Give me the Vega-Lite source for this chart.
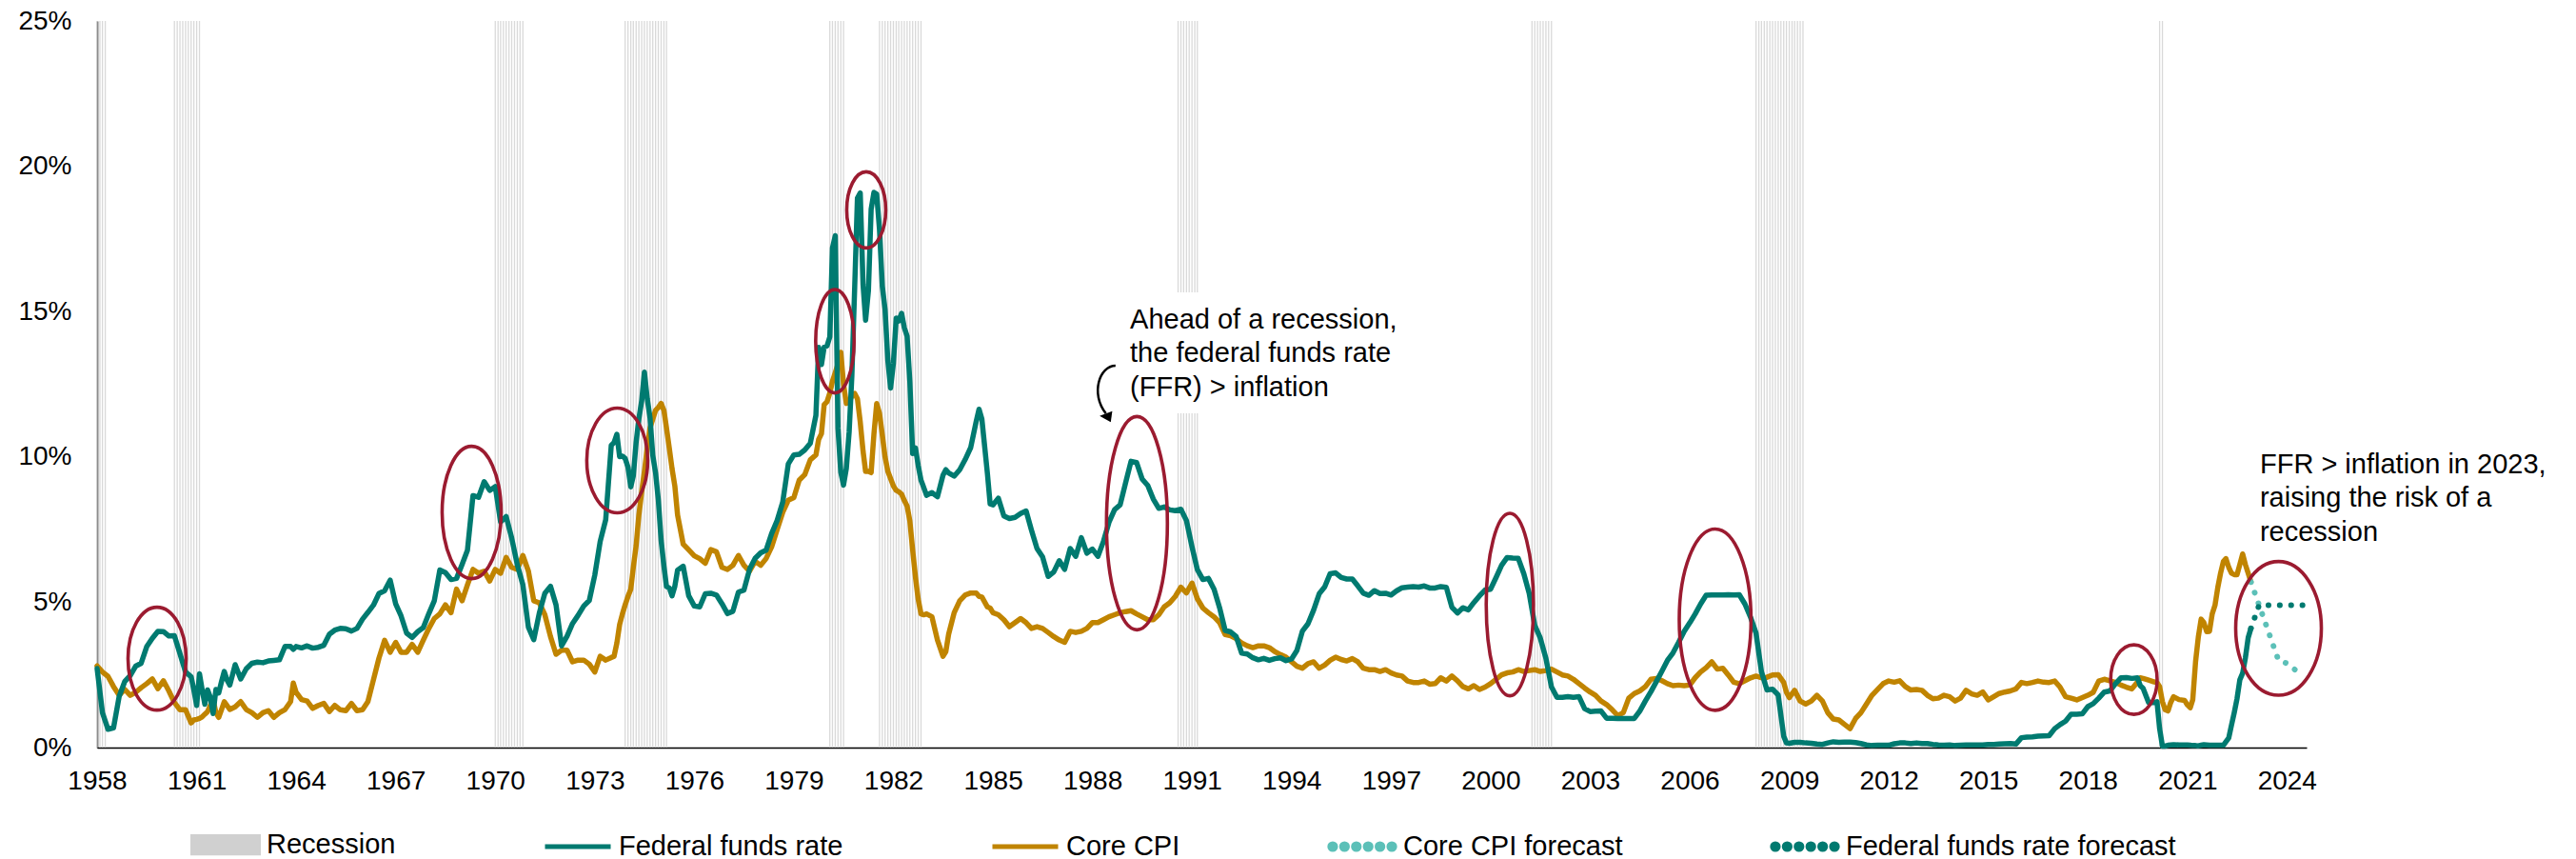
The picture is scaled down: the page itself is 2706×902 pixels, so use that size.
{
  "$schema": "https://vega.github.io/schema/vega-lite/v6.json",
  "width": 2321,
  "height": 763,
  "autosize": {"type": "none"},
  "padding": {"left": 102, "top": 22, "right": 283, "bottom": 117},
  "background": "white",
  "config": {"view": {"stroke": null}, "font": "Liberation Sans"},
  "datasets": {
    "rec": [
      {"m":"1958-01"},{"m":"1958-02"},{"m":"1958-03"},{"m":"1958-04"},
      {"m":"1960-05"},{"m":"1960-06"},{"m":"1960-07"},{"m":"1960-08"},{"m":"1960-09"},{"m":"1960-10"},{"m":"1960-11"},{"m":"1960-12"},{"m":"1961-01"},{"m":"1961-02"},
      {"m":"1970-01"},{"m":"1970-02"},{"m":"1970-03"},{"m":"1970-04"},{"m":"1970-05"},{"m":"1970-06"},{"m":"1970-07"},{"m":"1970-08"},{"m":"1970-09"},{"m":"1970-10"},{"m":"1970-11"},
      {"m":"1973-12"},{"m":"1974-01"},{"m":"1974-02"},{"m":"1974-03"},{"m":"1974-04"},{"m":"1974-05"},{"m":"1974-06"},{"m":"1974-07"},{"m":"1974-08"},{"m":"1974-09"},{"m":"1974-10"},{"m":"1974-11"},{"m":"1974-12"},{"m":"1975-01"},{"m":"1975-02"},{"m":"1975-03"},
      {"m":"1980-02"},{"m":"1980-03"},{"m":"1980-04"},{"m":"1980-05"},{"m":"1980-06"},{"m":"1980-07"},
      {"m":"1981-08"},{"m":"1981-09"},{"m":"1981-10"},{"m":"1981-11"},{"m":"1981-12"},{"m":"1982-01"},{"m":"1982-02"},{"m":"1982-03"},{"m":"1982-04"},{"m":"1982-05"},{"m":"1982-06"},{"m":"1982-07"},{"m":"1982-08"},{"m":"1982-09"},{"m":"1982-10"},{"m":"1982-11"},
      {"m":"1990-08"},{"m":"1990-09"},{"m":"1990-10"},{"m":"1990-11"},{"m":"1990-12"},{"m":"1991-01"},{"m":"1991-02"},{"m":"1991-03"},
      {"m":"2001-04"},{"m":"2001-05"},{"m":"2001-06"},{"m":"2001-07"},{"m":"2001-08"},{"m":"2001-09"},{"m":"2001-10"},{"m":"2001-11"},
      {"m":"2008-01"},{"m":"2008-02"},{"m":"2008-03"},{"m":"2008-04"},{"m":"2008-05"},{"m":"2008-06"},{"m":"2008-07"},{"m":"2008-08"},{"m":"2008-09"},{"m":"2008-10"},{"m":"2008-11"},{"m":"2008-12"},{"m":"2009-01"},{"m":"2009-02"},{"m":"2009-03"},{"m":"2009-04"},{"m":"2009-05"},{"m":"2009-06"},
      {"m":"2020-03"},{"m":"2020-04"}
    ],
    "box": [{"d1":"1989-01","d2":"1998-01","v1":11.5,"v2":15.66}],
    "main": [
      {"d":"1958-01","f":2.72,"c":2.81},{"d":"1958-03","f":1.20,"c":2.6},{"d":"1958-05","f":0.63,"c":2.45},{"d":"1958-07","f":0.68,"c":2.1},{"d":"1958-09","f":1.76,"c":1.8},{"d":"1958-11","f":2.27,"c":2.0},
      {"d":"1959-01","f":2.48,"c":1.8},{"d":"1959-03","f":2.80,"c":1.9},{"d":"1959-05","f":2.90,"c":2.06},{"d":"1959-07","f":3.47,"c":2.2},{"d":"1959-09","f":3.76,"c":2.36},{"d":"1959-11","f":4.00,"c":2.03},
      {"d":"1960-01","f":3.99,"c":2.3},{"d":"1960-03","f":3.84,"c":1.95},{"d":"1960-05","f":3.85,"c":1.55},{"d":"1960-07","f":3.23,"c":1.3},{"d":"1960-09","f":2.60,"c":1.3},{"d":"1960-11","f":2.44,"c":0.85},{"d":"1960-12","f":1.98,"c":0.95},
      {"d":"1961-01","f":1.45,"c":0.97},{"d":"1961-02","f":2.54,"c":1.0},{"d":"1961-03","f":2.02,"c":1.05},{"d":"1961-04","f":1.49,"c":1.15},{"d":"1961-05","f":1.98,"c":1.24},{"d":"1961-06","f":1.73,"c":1.45},{"d":"1961-07","f":1.17,"c":1.65},{"d":"1961-08","f":2.00,"c":1.2},{"d":"1961-09","f":1.88,"c":1.04},{"d":"1961-10","f":2.26,"c":1.3},{"d":"1961-11","f":2.62,"c":1.58},{"d":"1961-12","f":2.33,"c":1.45},
      {"d":"1962-01","f":2.15,"c":1.31},{"d":"1962-03","f":2.85,"c":1.4},{"d":"1962-05","f":2.36,"c":1.58},{"d":"1962-07","f":2.71,"c":1.31},{"d":"1962-09","f":2.90,"c":1.2},{"d":"1962-11","f":2.94,"c":1.04},
      {"d":"1963-01","f":2.92,"c":1.2},{"d":"1963-03","f":2.98,"c":1.27},{"d":"1963-05","f":3.00,"c":1.04},{"d":"1963-07","f":3.02,"c":1.2},{"d":"1963-09","f":3.48,"c":1.31},{"d":"1963-11","f":3.48,"c":1.58},{"d":"1963-12","f":3.38,"c":2.22},
      {"d":"1964-01","f":3.48,"c":1.9},{"d":"1964-03","f":3.43,"c":1.65},{"d":"1964-05","f":3.50,"c":1.6},{"d":"1964-07","f":3.42,"c":1.35},{"d":"1964-09","f":3.45,"c":1.45},{"d":"1964-11","f":3.52,"c":1.52},
      {"d":"1965-01","f":3.90,"c":1.24},{"d":"1965-03","f":4.04,"c":1.45},{"d":"1965-05","f":4.10,"c":1.3},{"d":"1965-07","f":4.09,"c":1.27},{"d":"1965-09","f":4.01,"c":1.52},{"d":"1965-11","f":4.10,"c":1.27},
      {"d":"1966-01","f":4.42,"c":1.3},{"d":"1966-03","f":4.65,"c":1.58},{"d":"1966-05","f":4.90,"c":2.33},{"d":"1966-07","f":5.30,"c":3.08},{"d":"1966-09","f":5.40,"c":3.69},{"d":"1966-11","f":5.76,"c":3.28},
      {"d":"1967-01","f":4.94,"c":3.62},{"d":"1967-03","f":4.53,"c":3.28},{"d":"1967-05","f":3.94,"c":3.28},{"d":"1967-07","f":3.79,"c":3.55},{"d":"1967-09","f":3.99,"c":3.28},{"d":"1967-11","f":4.13,"c":3.7},
      {"d":"1968-01","f":4.61,"c":4.1},{"d":"1968-03","f":5.05,"c":4.44},{"d":"1968-05","f":6.11,"c":4.6},{"d":"1968-07","f":6.02,"c":4.91},{"d":"1968-09","f":5.78,"c":4.64},{"d":"1968-11","f":5.82,"c":5.45},
      {"d":"1969-01","f":6.30,"c":5.05},{"d":"1969-03","f":6.79,"c":5.6},{"d":"1969-05","f":8.67,"c":6.13},{"d":"1969-07","f":8.61,"c":6.0},{"d":"1969-09","f":9.15,"c":6.07},{"d":"1969-11","f":8.85,"c":5.73},
      {"d":"1970-01","f":8.98,"c":6.13},{"d":"1970-03","f":7.76,"c":6.0},{"d":"1970-05","f":7.95,"c":6.54},{"d":"1970-07","f":7.21,"c":6.2},{"d":"1970-09","f":6.29,"c":6.13},{"d":"1970-11","f":5.60,"c":6.61},
      {"d":"1971-01","f":4.14,"c":6.07},{"d":"1971-03","f":3.71,"c":5.05},{"d":"1971-05","f":4.63,"c":4.98},{"d":"1971-07","f":5.31,"c":4.57},{"d":"1971-09","f":5.55,"c":3.82},{"d":"1971-11","f":4.91,"c":3.21},
      {"d":"1972-01","f":3.50,"c":3.35},{"d":"1972-03","f":3.83,"c":3.35},{"d":"1972-05","f":4.27,"c":2.95},{"d":"1972-07","f":4.55,"c":3.01},{"d":"1972-09","f":4.87,"c":3.01},{"d":"1972-11","f":5.06,"c":2.87},
      {"d":"1973-01","f":5.94,"c":2.6},{"d":"1973-03","f":7.09,"c":3.14},{"d":"1973-05","f":7.84,"c":3.01},{"d":"1973-07","f":10.40,"c":3.1},{"d":"1973-08","f":10.50,"c":3.14},{"d":"1973-09","f":10.78,"c":3.6},{"d":"1973-10","f":10.01,"c":4.23},{"d":"1973-11","f":10.03,"c":4.6},{"d":"1973-12","f":9.95,"c":4.91},
      {"d":"1974-01","f":9.65,"c":5.2},{"d":"1974-02","f":8.97,"c":5.45},{"d":"1974-03","f":9.35,"c":6.2},{"d":"1974-04","f":10.51,"c":6.95},{"d":"1974-05","f":11.31,"c":8.0},{"d":"1974-06","f":11.93,"c":8.8},{"d":"1974-07","f":12.92,"c":9.5},{"d":"1974-08","f":12.01,"c":10.3},{"d":"1974-09","f":11.34,"c":11.0},{"d":"1974-10","f":10.06,"c":11.3},{"d":"1974-11","f":9.45,"c":11.6},{"d":"1974-12","f":8.53,"c":11.7},
      {"d":"1975-01","f":7.13,"c":11.84},{"d":"1975-02","f":6.24,"c":11.6},{"d":"1975-03","f":5.54,"c":11.0},{"d":"1975-04","f":5.49,"c":10.3},{"d":"1975-05","f":5.22,"c":9.6},{"d":"1975-06","f":5.55,"c":9.0},{"d":"1975-07","f":6.10,"c":8.0},{"d":"1975-09","f":6.24,"c":7.0},{"d":"1975-11","f":5.22,"c":6.8},
      {"d":"1976-01","f":4.87,"c":6.6},{"d":"1976-03","f":4.84,"c":6.5},{"d":"1976-05","f":5.29,"c":6.34},{"d":"1976-07","f":5.31,"c":6.81},{"d":"1976-09","f":5.25,"c":6.74},{"d":"1976-11","f":4.95,"c":6.2},
      {"d":"1977-01","f":4.61,"c":6.13},{"d":"1977-03","f":4.69,"c":6.27},{"d":"1977-05","f":5.35,"c":6.61},{"d":"1977-07","f":5.42,"c":6.27},{"d":"1977-09","f":6.14,"c":6.07},{"d":"1977-11","f":6.51,"c":6.41},
      {"d":"1978-01","f":6.70,"c":6.27},{"d":"1978-03","f":6.79,"c":6.5},{"d":"1978-05","f":7.36,"c":6.9},{"d":"1978-07","f":7.81,"c":7.5},{"d":"1978-09","f":8.45,"c":8.1},{"d":"1978-11","f":9.76,"c":8.51},
      {"d":"1979-01","f":10.07,"c":8.6},{"d":"1979-03","f":10.09,"c":9.2},{"d":"1979-05","f":10.24,"c":9.39},{"d":"1979-07","f":10.47,"c":9.9},{"d":"1979-09","f":11.43,"c":10.07},{"d":"1979-10","f":13.77,"c":10.6},{"d":"1979-11","f":13.18,"c":10.8},{"d":"1979-12","f":13.78,"c":11.8},
      {"d":"1980-01","f":13.82,"c":11.9},{"d":"1980-02","f":14.13,"c":12.2},{"d":"1980-03","f":17.19,"c":12.6},{"d":"1980-04","f":17.61,"c":12.9},{"d":"1980-05","f":10.98,"c":13.2},{"d":"1980-06","f":9.47,"c":13.6},{"d":"1980-07","f":9.03,"c":12.5},{"d":"1980-08","f":9.61,"c":11.84},{"d":"1980-09","f":10.87,"c":11.9},{"d":"1980-10","f":12.81,"c":12.1},{"d":"1980-11","f":15.85,"c":12.18},{"d":"1980-12","f":18.90,"c":12.0},
      {"d":"1981-01","f":19.08,"c":11.2},{"d":"1981-02","f":15.93,"c":10.2},{"d":"1981-03","f":14.70,"c":9.5},{"d":"1981-04","f":15.72,"c":9.5},{"d":"1981-05","f":18.52,"c":9.46},{"d":"1981-06","f":19.10,"c":10.8},{"d":"1981-07","f":19.04,"c":11.84},{"d":"1981-08","f":17.82,"c":11.5},{"d":"1981-09","f":15.87,"c":10.75},{"d":"1981-10","f":15.08,"c":10.0},{"d":"1981-11","f":13.31,"c":9.5},{"d":"1981-12","f":12.37,"c":9.26},
      {"d":"1982-01","f":13.22,"c":9.0},{"d":"1982-02","f":14.78,"c":8.85},{"d":"1982-03","f":14.68,"c":8.8},{"d":"1982-04","f":14.94,"c":8.72},{"d":"1982-05","f":14.45,"c":8.5},{"d":"1982-06","f":14.15,"c":8.31},{"d":"1982-07","f":12.59,"c":7.8},{"d":"1982-08","f":10.12,"c":6.8},{"d":"1982-09","f":10.31,"c":5.86},{"d":"1982-10","f":9.71,"c":5.1},{"d":"1982-11","f":9.20,"c":4.6},{"d":"1982-12","f":8.95,"c":4.57},
      {"d":"1983-01","f":8.68,"c":4.6},{"d":"1983-03","f":8.77,"c":4.5},{"d":"1983-05","f":8.63,"c":3.7},{"d":"1983-07","f":9.37,"c":3.14},{"d":"1983-08","f":9.56,"c":3.3},{"d":"1983-09","f":9.45,"c":3.9},{"d":"1983-11","f":9.34,"c":4.64},
      {"d":"1984-01","f":9.56,"c":5.05},{"d":"1984-03","f":9.91,"c":5.25},{"d":"1984-05","f":10.32,"c":5.32},{"d":"1984-07","f":11.23,"c":5.32},{"d":"1984-08","f":11.64,"c":5.2},{"d":"1984-09","f":11.30,"c":5.18},{"d":"1984-11","f":9.43,"c":4.84},{"d":"1984-12","f":8.38,"c":4.8},
      {"d":"1985-01","f":8.35,"c":4.64},{"d":"1985-03","f":8.58,"c":4.57},{"d":"1985-05","f":7.97,"c":4.4},{"d":"1985-07","f":7.88,"c":4.16},{"d":"1985-09","f":7.92,"c":4.3},{"d":"1985-11","f":8.05,"c":4.44},
      {"d":"1986-01","f":8.14,"c":4.3},{"d":"1986-03","f":7.48,"c":4.1},{"d":"1986-05","f":6.85,"c":4.16},{"d":"1986-07","f":6.56,"c":4.1},{"d":"1986-09","f":5.89,"c":3.96},{"d":"1986-11","f":6.04,"c":3.82},
      {"d":"1987-01","f":6.43,"c":3.7},{"d":"1987-03","f":6.13,"c":3.62},{"d":"1987-05","f":6.85,"c":4.0},{"d":"1987-07","f":6.58,"c":3.96},{"d":"1987-09","f":7.22,"c":4.0},{"d":"1987-11","f":6.69,"c":4.1},
      {"d":"1988-01","f":6.83,"c":4.3},{"d":"1988-03","f":6.58,"c":4.3},{"d":"1988-05","f":7.09,"c":4.4},{"d":"1988-07","f":7.75,"c":4.5},{"d":"1988-09","f":8.19,"c":4.57},{"d":"1988-11","f":8.35,"c":4.64},
      {"d":"1989-01","f":9.12,"c":4.68},{"d":"1989-03","f":9.85,"c":4.71},{"d":"1989-05","f":9.81,"c":4.6},{"d":"1989-07","f":9.24,"c":4.5},{"d":"1989-09","f":9.02,"c":4.4},{"d":"1989-11","f":8.55,"c":4.4},
      {"d":"1990-01","f":8.23,"c":4.57},{"d":"1990-03","f":8.28,"c":4.84},{"d":"1990-05","f":8.18,"c":4.98},{"d":"1990-07","f":8.15,"c":5.2},{"d":"1990-09","f":8.20,"c":5.52},{"d":"1990-11","f":7.81,"c":5.32},
      {"d":"1991-01","f":6.91,"c":5.66},{"d":"1991-03","f":6.12,"c":5.12},{"d":"1991-05","f":5.78,"c":4.8},{"d":"1991-07","f":5.82,"c":4.64},{"d":"1991-09","f":5.45,"c":4.5},{"d":"1991-11","f":4.81,"c":4.3},
      {"d":"1992-01","f":4.03,"c":3.89},{"d":"1992-03","f":3.98,"c":3.85},{"d":"1992-05","f":3.82,"c":3.75},{"d":"1992-07","f":3.25,"c":3.6},{"d":"1992-09","f":3.22,"c":3.5},{"d":"1992-11","f":3.09,"c":3.44},
      {"d":"1993-01","f":3.02,"c":3.5},{"d":"1993-03","f":3.07,"c":3.5},{"d":"1993-05","f":3.00,"c":3.44},{"d":"1993-07","f":3.06,"c":3.3},{"d":"1993-09","f":3.09,"c":3.2},{"d":"1993-11","f":2.99,"c":3.11},
      {"d":"1994-01","f":3.05,"c":2.95},{"d":"1994-03","f":3.34,"c":2.8},{"d":"1994-05","f":4.01,"c":2.73},{"d":"1994-07","f":4.26,"c":2.89},{"d":"1994-09","f":4.73,"c":2.95},{"d":"1994-11","f":5.29,"c":2.73},
      {"d":"1995-01","f":5.53,"c":2.84},{"d":"1995-03","f":5.98,"c":3.0},{"d":"1995-05","f":6.01,"c":3.11},{"d":"1995-07","f":5.85,"c":3.03},{"d":"1995-09","f":5.80,"c":2.98},{"d":"1995-11","f":5.80,"c":3.06},
      {"d":"1996-01","f":5.56,"c":2.95},{"d":"1996-03","f":5.31,"c":2.73},{"d":"1996-05","f":5.24,"c":2.68},{"d":"1996-07","f":5.40,"c":2.68},{"d":"1996-09","f":5.30,"c":2.62},{"d":"1996-11","f":5.31,"c":2.68},
      {"d":"1997-01","f":5.25,"c":2.57},{"d":"1997-03","f":5.39,"c":2.5},{"d":"1997-05","f":5.50,"c":2.46},{"d":"1997-07","f":5.52,"c":2.29},{"d":"1997-09","f":5.54,"c":2.24},{"d":"1997-11","f":5.52,"c":2.24},
      {"d":"1998-01","f":5.56,"c":2.29},{"d":"1998-03","f":5.49,"c":2.18},{"d":"1998-05","f":5.49,"c":2.2},{"d":"1998-07","f":5.54,"c":2.4},{"d":"1998-09","f":5.51,"c":2.29},{"d":"1998-11","f":4.83,"c":2.46},
      {"d":"1999-01","f":4.63,"c":2.3},{"d":"1999-03","f":4.81,"c":2.1},{"d":"1999-05","f":4.74,"c":2.02},{"d":"1999-07","f":4.99,"c":2.13},{"d":"1999-09","f":5.22,"c":2.0},{"d":"1999-11","f":5.42,"c":2.08},
      {"d":"2000-01","f":5.45,"c":2.2},{"d":"2000-03","f":5.85,"c":2.35},{"d":"2000-05","f":6.27,"c":2.5},{"d":"2000-07","f":6.54,"c":2.57},{"d":"2000-09","f":6.52,"c":2.6},{"d":"2000-11","f":6.51,"c":2.68},
      {"d":"2001-01","f":5.98,"c":2.62},{"d":"2001-03","f":5.31,"c":2.65},{"d":"2001-05","f":4.21,"c":2.68},{"d":"2001-07","f":3.77,"c":2.62},{"d":"2001-09","f":3.07,"c":2.65},{"d":"2001-11","f":2.09,"c":2.7},
      {"d":"2002-01","f":1.73,"c":2.6},{"d":"2002-03","f":1.73,"c":2.5},{"d":"2002-05","f":1.75,"c":2.46},{"d":"2002-07","f":1.73,"c":2.35},{"d":"2002-09","f":1.75,"c":2.2},{"d":"2002-11","f":1.34,"c":2.05},
      {"d":"2003-01","f":1.24,"c":1.91},{"d":"2003-03","f":1.25,"c":1.8},{"d":"2003-05","f":1.26,"c":1.6},{"d":"2003-07","f":1.01,"c":1.48},{"d":"2003-09","f":1.01,"c":1.3},{"d":"2003-11","f":1.00,"c":1.1},
      {"d":"2004-01","f":1.00,"c":1.2},{"d":"2004-03","f":1.00,"c":1.7},{"d":"2004-05","f":1.00,"c":1.86},{"d":"2004-07","f":1.26,"c":1.95},{"d":"2004-09","f":1.61,"c":2.1},{"d":"2004-11","f":1.93,"c":2.35},
      {"d":"2005-01","f":2.28,"c":2.38},{"d":"2005-03","f":2.63,"c":2.3},{"d":"2005-05","f":3.00,"c":2.2},{"d":"2005-07","f":3.26,"c":2.13},{"d":"2005-09","f":3.62,"c":2.15},{"d":"2005-11","f":4.00,"c":2.13},
      {"d":"2006-01","f":4.29,"c":2.15},{"d":"2006-03","f":4.59,"c":2.4},{"d":"2006-05","f":4.94,"c":2.6},{"d":"2006-07","f":5.24,"c":2.75},{"d":"2006-09","f":5.25,"c":2.95},{"d":"2006-11","f":5.25,"c":2.7},
      {"d":"2007-01","f":5.25,"c":2.73},{"d":"2007-03","f":5.26,"c":2.5},{"d":"2007-05","f":5.25,"c":2.25},{"d":"2007-07","f":5.26,"c":2.2},{"d":"2007-09","f":4.94,"c":2.3},{"d":"2007-11","f":4.49,"c":2.4},
      {"d":"2008-01","f":3.94,"c":2.46},{"d":"2008-03","f":2.61,"c":2.4},{"d":"2008-05","f":1.98,"c":2.42},{"d":"2008-07","f":2.01,"c":2.5},{"d":"2008-09","f":1.81,"c":2.51},{"d":"2008-11","f":0.39,"c":2.24},{"d":"2008-12","f":0.16,"c":1.9},
      {"d":"2009-01","f":0.15,"c":1.72},{"d":"2009-03","f":0.18,"c":1.97},{"d":"2009-05","f":0.18,"c":1.6},{"d":"2009-07","f":0.16,"c":1.5},{"d":"2009-09","f":0.15,"c":1.6},{"d":"2009-11","f":0.12,"c":1.8},
      {"d":"2010-01","f":0.11,"c":1.6},{"d":"2010-03","f":0.16,"c":1.2},{"d":"2010-05","f":0.20,"c":0.98},{"d":"2010-07","f":0.18,"c":0.95},{"d":"2010-09","f":0.19,"c":0.8},{"d":"2010-11","f":0.19,"c":0.65},
      {"d":"2011-01","f":0.17,"c":1.0},{"d":"2011-03","f":0.14,"c":1.2},{"d":"2011-05","f":0.09,"c":1.5},{"d":"2011-07","f":0.07,"c":1.8},{"d":"2011-09","f":0.08,"c":2.0},{"d":"2011-11","f":0.08,"c":2.2},
      {"d":"2012-01","f":0.08,"c":2.29},{"d":"2012-03","f":0.13,"c":2.25},{"d":"2012-05","f":0.16,"c":2.3},{"d":"2012-07","f":0.16,"c":2.1},{"d":"2012-09","f":0.14,"c":1.98},{"d":"2012-11","f":0.16,"c":2.0},
      {"d":"2013-01","f":0.14,"c":1.97},{"d":"2013-03","f":0.14,"c":1.8},{"d":"2013-05","f":0.11,"c":1.68},{"d":"2013-07","f":0.09,"c":1.7},{"d":"2013-09","f":0.08,"c":1.8},{"d":"2013-11","f":0.09,"c":1.75},
      {"d":"2014-01","f":0.07,"c":1.6},{"d":"2014-03","f":0.08,"c":1.7},{"d":"2014-05","f":0.09,"c":1.97},{"d":"2014-07","f":0.09,"c":1.85},{"d":"2014-09","f":0.09,"c":1.8},{"d":"2014-11","f":0.09,"c":1.91},
      {"d":"2015-01","f":0.11,"c":1.64},{"d":"2015-03","f":0.11,"c":1.75},{"d":"2015-05","f":0.12,"c":1.86},{"d":"2015-07","f":0.13,"c":1.91},{"d":"2015-09","f":0.14,"c":1.95},{"d":"2015-11","f":0.12,"c":2.02},
      {"d":"2016-01","f":0.34,"c":2.24},{"d":"2016-03","f":0.36,"c":2.2},{"d":"2016-05","f":0.37,"c":2.24},{"d":"2016-07","f":0.39,"c":2.29},{"d":"2016-09","f":0.40,"c":2.25},{"d":"2016-11","f":0.41,"c":2.24},
      {"d":"2017-01","f":0.65,"c":2.29},{"d":"2017-03","f":0.79,"c":2.08},{"d":"2017-05","f":0.91,"c":1.75},{"d":"2017-07","f":1.15,"c":1.7},{"d":"2017-09","f":1.15,"c":1.64},{"d":"2017-11","f":1.16,"c":1.72},
      {"d":"2018-01","f":1.41,"c":1.8},{"d":"2018-03","f":1.51,"c":1.9},{"d":"2018-05","f":1.70,"c":2.29},{"d":"2018-07","f":1.91,"c":2.35},{"d":"2018-09","f":1.95,"c":2.3},{"d":"2018-11","f":2.20,"c":2.24},
      {"d":"2019-01","f":2.40,"c":2.15},{"d":"2019-03","f":2.41,"c":2.08},{"d":"2019-05","f":2.38,"c":2.02},{"d":"2019-07","f":2.40,"c":2.25},{"d":"2019-08","f":2.13,"c":2.4},{"d":"2019-09","f":2.04,"c":2.38},{"d":"2019-11","f":1.55,"c":2.32},
      {"d":"2020-01","f":1.55,"c":2.26},{"d":"2020-02","f":1.58,"c":2.24},{"d":"2020-03","f":0.65,"c":2.1},{"d":"2020-04","f":0.05,"c":1.58},{"d":"2020-05","f":0.05,"c":1.3},{"d":"2020-06","f":0.08,"c":1.26},{"d":"2020-07","f":0.09,"c":1.55},{"d":"2020-08","f":0.10,"c":1.75},{"d":"2020-10","f":0.09,"c":1.65},{"d":"2020-12","f":0.09,"c":1.62},
      {"d":"2021-01","f":0.09,"c":1.47},{"d":"2021-02","f":0.08,"c":1.37},{"d":"2021-03","f":0.07,"c":1.65},{"d":"2021-04","f":0.07,"c":2.96},{"d":"2021-05","f":0.06,"c":3.8},{"d":"2021-06","f":0.08,"c":4.42},{"d":"2021-07","f":0.10,"c":4.3},{"d":"2021-08","f":0.09,"c":3.99},{"d":"2021-09","f":0.08,"c":4.0},{"d":"2021-10","f":0.08,"c":4.6},{"d":"2021-11","f":0.08,"c":4.9},{"d":"2021-12","f":0.08,"c":5.5},
      {"d":"2022-01","f":0.08,"c":6.0},{"d":"2022-02","f":0.08,"c":6.4},{"d":"2022-03","f":0.20,"c":6.5},{"d":"2022-04","f":0.33,"c":6.2},{"d":"2022-05","f":0.77,"c":6.0},{"d":"2022-06","f":1.21,"c":5.95},{"d":"2022-07","f":1.68,"c":5.95},{"d":"2022-08","f":2.33,"c":6.3},{"d":"2022-09","f":2.56,"c":6.66},{"d":"2022-10","f":3.08,"c":6.3},{"d":"2022-11","f":3.78,"c":6.0},{"d":"2022-12","f":4.10,"c":5.7}
    ],
    "cpif": [{"d":"2022-12","v":5.7},{"d":"2023-10","v":3.0},{"d":"2024-01","v":2.9},{"d":"2024-05","v":2.6}],
    "ffrf": [{"d":"2022-12","v":4.1},{"d":"2023-03","v":4.9},{"d":"2024-07-15","v":4.9}],
    "ell": [
      {"id":"e1","d":"1959-10-23","v":3.06},
      {"id":"e2","d":"1969-04-16","v":8.09},
      {"id":"e3","d":"1973-09-05","v":9.88},
      {"id":"e4","d":"1980-03-28","v":13.98},
      {"id":"e5","d":"1981-03-08","v":18.5},
      {"id":"e6","d":"1989-05-05","v":7.72},
      {"id":"e7","d":"2000-07-31","v":4.92},
      {"id":"e8","d":"2006-10-08","v":4.4},
      {"id":"e9","d":"2019-05-23","v":2.34},
      {"id":"e10","d":"2023-10-01","v":4.1}
    ],
    "arrow": [{"d":"1988-05-01","v":12.25}],
    "notes": [
      {"d":"1989-02-18","v":14.42,"t":"Ahead of a recession,\nthe federal funds rate\n(FFR) > inflation"},
      {"d":"2023-03-10","v":9.44,"t":"FFR > inflation in 2023,\nraising the risk of a\nrecession"}
    ]
  },
  "layer": [
    {
      "data": {"name": "rec"},
      "mark": {"type": "rule", "color": "#d9d9d9", "strokeWidth": 1.3},
      "encoding": {
        "x": {
          "field": "m", "type": "temporal", "title": null,
          "scale": {"type": "utc", "domain": [{"year": 1958, "month": 1, "date": 1, "utc": true}, {"year": 2024, "month": 8, "date": 5, "utc": true}]},
          "axis": {
            "values": [{"year":1958,"utc":true},{"year":1961,"utc":true},{"year":1964,"utc":true},{"year":1967,"utc":true},{"year":1970,"utc":true},{"year":1973,"utc":true},{"year":1976,"utc":true},{"year":1979,"utc":true},{"year":1982,"utc":true},{"year":1985,"utc":true},{"year":1988,"utc":true},{"year":1991,"utc":true},{"year":1994,"utc":true},{"year":1997,"utc":true},{"year":2000,"utc":true},{"year":2003,"utc":true},{"year":2006,"utc":true},{"year":2009,"utc":true},{"year":2012,"utc":true},{"year":2015,"utc":true},{"year":2018,"utc":true},{"year":2021,"utc":true},{"year":2024,"utc":true}],
            "format": "%Y",
            "grid": false, "ticks": false, "tickSize": 0,
            "domainColor": "#000000", "domainWidth": 1.5,
            "labelFont": "Liberation Sans", "labelFontSize": 28, "labelColor": "#000000",
            "labelPadding": 21, "labelFlush": false, "labelOverlap": false
          }
        }
      }
    },
    {
      "data": {"name": "box"},
      "mark": {"type": "rect", "color": "white"},
      "encoding": {
        "x": {"field": "d1", "type": "temporal", "title": null},
        "x2": {"field": "d2"},
        "y": {"field": "v1", "type": "quantitative", "title": null},
        "y2": {"field": "v2"}
      }
    },
    {
      "data": {"name": "main"},
      "mark": {"type": "line", "strokeWidth": 5.5, "strokeJoin": "round", "strokeCap": "round"},
      "encoding": {
        "x": {"field": "d", "type": "temporal", "title": null},
        "y": {
          "field": "c", "type": "quantitative", "title": null,
          "scale": {"domain": [0, 25], "nice": false},
          "axis": {
            "values": [0, 5, 10, 15, 20, 25], "labelExpr": "datum.value + '%'",
            "grid": false, "ticks": false, "tickSize": 0,
            "domainColor": "#000000", "domainWidth": 1.5,
            "labelFont": "Liberation Sans", "labelFontSize": 28, "labelColor": "#000000", "labelPadding": 27
          }
        },
        "color": {
          "datum": "Core CPI", "type": "nominal",
          "scale": {
            "domain": ["Recession", "Federal funds rate", "Core CPI", "Core CPI forecast", "Federal funds rate forecast"],
            "range": ["#d0d0d0", "#007a70", "#c08400", "#5cc0b8", "#007a70"]
          },
          "legend": {
            "orient": "none", "legendX": 98, "legendY": 828,
            "direction": "horizontal", "columns": 5, "title": null, "padding": 0,
            "labelFont": "Liberation Sans", "labelFontSize": 29, "labelColor": "#000000", "labelLimit": 1000,
            "symbolSize": 4761, "symbolStrokeWidth": 5, "labelOffset": 6, "columnPadding": 146,
            "encode": {
              "symbols": {
                "update": {
                  "shape": {"signal": "datum.value === 'Recession' ? 'M-1,-0.25H1V0.25H-1Z' : (datum.value === 'Core CPI forecast' || datum.value === 'Federal funds rate forecast') ? 'M-0.99,0A0.09,0.09 0 1,0 -0.81,0A0.09,0.09 0 1,0 -0.99,0ZM-0.63,0A0.09,0.09 0 1,0 -0.45,0A0.09,0.09 0 1,0 -0.63,0ZM-0.27,0A0.09,0.09 0 1,0 -0.09,0A0.09,0.09 0 1,0 -0.27,0ZM0.09,0A0.09,0.09 0 1,0 0.27,0A0.09,0.09 0 1,0 0.09,0ZM0.45,0A0.09,0.09 0 1,0 0.63,0A0.09,0.09 0 1,0 0.45,0ZM0.81,0A0.09,0.09 0 1,0 0.99,0A0.09,0.09 0 1,0 0.81,0Z' : 'M-1,0H1'"},
                  "fill": {"signal": "datum.value === 'Recession' ? '#d0d0d0' : datum.value === 'Core CPI forecast' ? '#5cc0b8' : datum.value === 'Federal funds rate forecast' ? '#007a70' : 'transparent'"},
                  "stroke": {"signal": "datum.value === 'Core CPI' ? '#c08400' : datum.value === 'Federal funds rate' ? '#007a70' : 'transparent'"}
                }
              }
            }
          }
        }
      }
    },
    {
      "data": {"name": "main"},
      "mark": {"type": "line", "strokeWidth": 5.5, "strokeJoin": "round", "strokeCap": "round"},
      "encoding": {
        "x": {"field": "d", "type": "temporal", "title": null},
        "y": {"field": "f", "type": "quantitative", "title": null},
        "color": {"datum": "Federal funds rate", "type": "nominal"}
      }
    },
    {
      "data": {"name": "cpif"},
      "mark": {"type": "line", "strokeWidth": 6, "strokeCap": "round", "strokeDash": [0.1, 11.8]},
      "encoding": {
        "x": {"field": "d", "type": "temporal", "title": null},
        "y": {"field": "v", "type": "quantitative", "title": null},
        "color": {"datum": "Core CPI forecast", "type": "nominal"}
      }
    },
    {
      "data": {"name": "ffrf"},
      "mark": {"type": "line", "strokeWidth": 6, "strokeCap": "round", "strokeDash": [0.1, 11.8]},
      "encoding": {
        "x": {"field": "d", "type": "temporal", "title": null},
        "y": {"field": "v", "type": "quantitative", "title": null},
        "color": {"datum": "Federal funds rate forecast", "type": "nominal"}
      }
    },
    {
      "data": {"name": "ell"},
      "mark": {"type": "point", "size": 4, "filled": false, "opacity": 1, "color": "#9b1b30", "strokeWidth": 3.6},
      "encoding": {
        "x": {"field": "d", "type": "temporal", "title": null},
        "y": {"field": "v", "type": "quantitative", "title": null},
        "shape": {
          "field": "id", "type": "nominal", "legend": null,
          "scale": {
            "domain": ["e1","e2","e3","e4","e5","e6","e7","e8","e9","e10"],
            "range": [
              "M-30.5,0A30.5,54 0 1,1 30.5,0A30.5,54 0 1,1 -30.5,0Z",
              "M-31,0A31,69.5 0 1,1 31,0A31,69.5 0 1,1 -31,0Z",
              "M-32,0A32,55 0 1,1 32,0A32,55 0 1,1 -32,0Z",
              "M-20.2,0A20.2,54.3 0 1,1 20.2,0A20.2,54.3 0 1,1 -20.2,0Z",
              "M-20.5,0A20.5,40 0 1,1 20.5,0A20.5,40 0 1,1 -20.5,0Z",
              "M-32,0A32,112 0 1,1 32,0A32,112 0 1,1 -32,0Z",
              "M-24.8,0A24.8,95.8 0 1,1 24.8,0A24.8,95.8 0 1,1 -24.8,0Z",
              "M-37.7,0A37.7,95.2 0 1,1 37.7,0A37.7,95.2 0 1,1 -37.7,0Z",
              "M-24.4,0A24.4,36.5 0 1,1 24.4,0A24.4,36.5 0 1,1 -24.4,0Z",
              "M-45,0A45,70.2 0 1,1 45,0A45,70.2 0 1,1 -45,0Z"
            ]
          }
        }
      }
    },
    {
      "data": {"name": "arrow"},
      "mark": {"type": "point", "size": 4, "filled": false, "opacity": 1, "color": "#000000", "strokeWidth": 2.5, "shape": "M12.7,-27.1C-4,-27 -14,2 2.6,23"},
      "encoding": {
        "x": {"field": "d", "type": "temporal", "title": null},
        "y": {"field": "v", "type": "quantitative", "title": null}
      }
    },
    {
      "data": {"name": "arrow"},
      "mark": {"type": "point", "size": 4, "filled": true, "opacity": 1, "color": "#000000", "strokeWidth": 0, "shape": "M7.7,32.2L9.3,20.6L-4,25.6Z"},
      "encoding": {
        "x": {"field": "d", "type": "temporal", "title": null},
        "y": {"field": "v", "type": "quantitative", "title": null}
      }
    },
    {
      "data": {"name": "notes"},
      "mark": {"type": "text", "align": "left", "baseline": "alphabetic", "font": "Liberation Sans", "fontSize": 29, "lineHeight": 35.5, "lineBreak": "\n", "color": "#000000"},
      "encoding": {
        "x": {"field": "d", "type": "temporal", "title": null},
        "y": {"field": "v", "type": "quantitative", "title": null},
        "text": {"field": "t"}
      }
    }
  ]
}
